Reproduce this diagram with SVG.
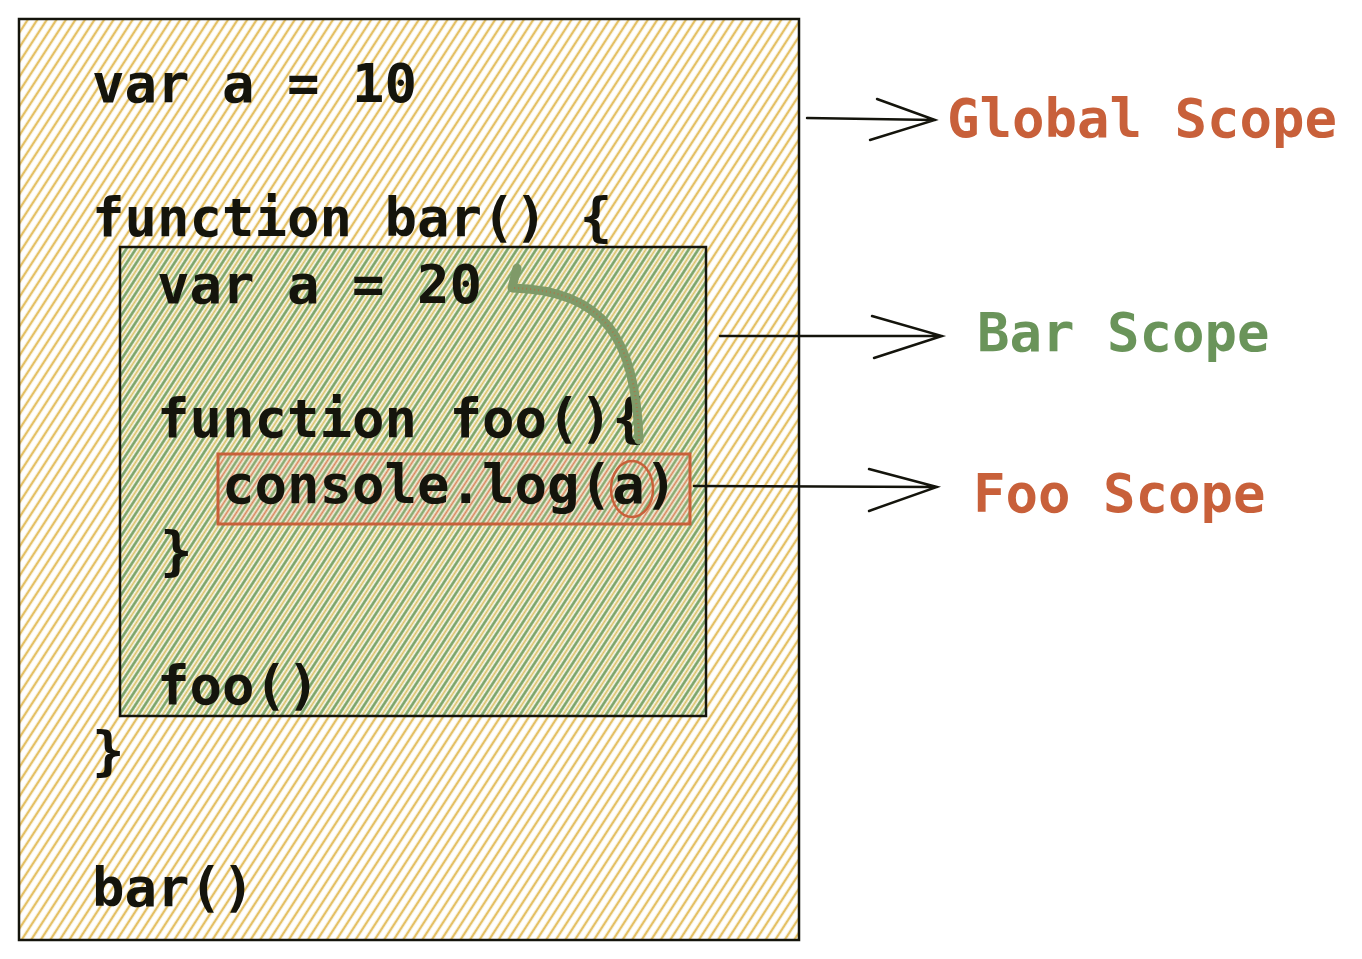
<svg xmlns="http://www.w3.org/2000/svg" width="1362" height="959" viewBox="0 0 1362 959">
<defs>
<pattern id="hy" width="8" height="8" patternUnits="userSpaceOnUse" patternTransform="rotate(33)">
<rect width="8" height="8" fill="#ffffff"/>
<line x1="2" y1="0" x2="2" y2="8" stroke="#e4c064" stroke-width="2.4"/>
</pattern>
<pattern id="hg" width="8" height="8" patternUnits="userSpaceOnUse" patternTransform="rotate(33)">
<rect width="8" height="8" fill="#f8f8ec"/>
<line x1="1.5" y1="0" x2="1.5" y2="8" stroke="#76a062" stroke-width="2.6"/>
<line x1="5.5" y1="0" x2="5.5" y2="8" stroke="#dcc064" stroke-width="1.8"/>
</pattern>
<pattern id="hr" width="8" height="8" patternUnits="userSpaceOnUse" patternTransform="rotate(33)">
<rect width="8" height="8" fill="#f0f0dc"/>
<line x1="1.5" y1="0" x2="1.5" y2="8" stroke="#80a468" stroke-width="2.4"/>
<line x1="5.5" y1="0" x2="5.5" y2="8" stroke="#d9855a" stroke-width="1.8"/>
</pattern>
</defs>
<style>
.code{font-family:"DejaVu Sans Mono","Liberation Mono",monospace;font-size:54px;font-weight:bold;fill:#14140c}
.lbl{font-family:"DejaVu Sans Mono","Liberation Mono",monospace;font-size:54px;font-weight:bold}
.or{fill:#c8603a}
.gr{fill:#6a945a}
.conn{fill:none;stroke:#14140c;stroke-width:2.4;stroke-linecap:round}
</style>
<rect width="1362" height="959" fill="#ffffff"/>
<g id="global-scope">
<rect x="19" y="19" width="780" height="921" fill="url(#hy)" stroke="#14140c" stroke-width="2.5"/>
<text class="code" x="92" y="102">var a = 10</text>
<text class="code" x="92" y="236">function bar() {</text>
<text class="code" x="92" y="770">}</text>
<text class="code" x="92" y="906">bar()</text>
</g>
<g id="bar-scope">
<rect x="120" y="247" width="586" height="469" fill="url(#hg)" stroke="#14140c" stroke-width="2.5"/>
<text class="code" x="157" y="303">var a = 20</text>
<text class="code" x="157" y="437">function foo(){</text>
<text class="code" x="160" y="570">}</text>
<text class="code" x="157" y="704">foo()</text>
</g>
<g id="foo-scope">
<rect x="218" y="454" width="472" height="70" fill="url(#hr)" stroke="#c8603a" stroke-width="3"/>
<text class="code" x="222" y="503">console.log(a)</text>
<ellipse cx="632" cy="489" rx="21" ry="28" fill="none" stroke="#c8603a" stroke-width="2.5"/>
</g>
<g id="labels">
<text class="lbl or" x="947" y="137">Global Scope</text>
<text class="lbl gr" x="977" y="351">Bar Scope</text>
<text class="lbl or" x="973" y="512">Foo Scope</text>
</g>
<g id="connectors">
<path class="conn" d="M807 118 L935 120 M877 99 L935 120 L870 140"/>
<path class="conn" d="M720 336 L942 336 M872 316 L942 336 L874 358"/>
<path class="conn" d="M694 486 L937 487 M869 469 L937 487 L869 511"/>
<path d="M639 440 C636 340 605 290 512 288 L517 268" fill="none" stroke="#7f9a68" stroke-width="9" stroke-linecap="round" stroke-linejoin="round"/>
<path d="M639 440 C636 340 605 290 512 288" fill="none" stroke="#c8603a" stroke-width="2" stroke-dasharray="1 3" opacity="0.6"/>
</g>
</svg>
